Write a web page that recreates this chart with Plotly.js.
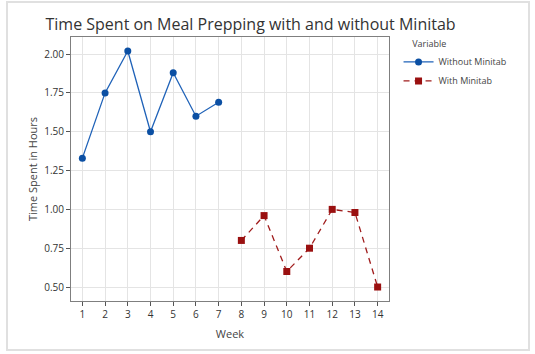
<!DOCTYPE html>
<html><head><meta charset="utf-8">
<script src="https://cdn.plot.ly/plotly-3.0.1.min.js"></script>
<style>html,body{margin:0;padding:0;background:#fff;}#chart{width:535px;height:354px;}</style>
</head><body><div id="chart"></div>
<script>
const weeksWithout = [1, 2, 3, 4, 5, 6, 7];
const hoursWithout = [1.33, 1.75, 2.02, 1.50, 1.88, 1.60, 1.69];
const weeksWith = [8, 9, 10, 11, 12, 13, 14];
const hoursWith = [0.80, 0.96, 0.60, 0.75, 1.00, 0.98, 0.50];
const xTicks = [1,2,3,4,5,6,7,8,9,10,11,12,13,14];
const yTicks = [0.50, 0.75, 1.00, 1.25, 1.50, 1.75, 2.00];

const fontFam = 'Open Sans, Noto Sans, sans-serif';
const traces = [
  {x: weeksWithout, y: hoursWithout, name: 'Without Minitab', mode: 'lines+markers',
   line: {color: '#1f62b8', width: 1.3}, marker: {color: '#0b4fa3', size: 7, symbol: 'circle'}},
  {x: weeksWith, y: hoursWith, name: 'With Minitab', mode: 'lines+markers',
   line: {color: '#a01c1c', width: 1.3, dash: '6px,5px'}, marker: {color: '#9a1010', size: 7, symbol: 'square'}}
];
const layout = {
  width: 535, height: 354,
  margin: {l: 71, r: 146, t: 37, b: 53},
  paper_bgcolor: '#fff', plot_bgcolor: '#fff',
  font: {family: fontFam, color: '#333', size: 10},
  title: {text: 'Time Spent on Meal Prepping with and without Minitab', x: 0.085, xanchor: 'left', y: 0.932, yanchor: 'middle',
          font: {size: 16, color: '#333', family: fontFam}},
  xaxis: {range: [0.5, 14.5], tickvals: xTicks, ticktext: xTicks.map(String), showgrid: true, gridcolor: '#e4e4e4',
          zeroline: false, showline: true, linecolor: '#7f7f7f', linewidth: 1, mirror: true,
          ticks: 'outside', ticklen: 4, tickcolor: '#555', tickfont: {size: 10, color: '#333'},
          title: {text: 'Week', font: {size: 11, color: '#444'}, standoff: 10}},
  yaxis: {range: [0.41, 2.11], tickvals: yTicks, ticktext: yTicks.map(v => v.toFixed(2)), showgrid: true, gridcolor: '#e4e4e4',
          zeroline: false, showline: true, linecolor: '#7f7f7f', linewidth: 1, mirror: true,
          ticks: 'outside', ticklen: 4, tickcolor: '#555', tickfont: {size: 10, color: '#333'},
          title: {text: 'Time Spent in Hours', font: {size: 11, color: '#444'}, standoff: 4}},
  showlegend: true,
  legend: {x: 1.03, y: 1.005, xanchor: 'left', yanchor: 'top', font: {size: 9, color: '#444'},
           title: {text: '\u00a0\u00a0\u00a0\u00a0\u00a0Variable', font: {size: 9, color: '#444'}}, tracegroupgap: 0, itemwidth: 30,
           bgcolor: 'rgba(0,0,0,0)'},
  shapes: [{type: 'rect', xref: 'paper', yref: 'paper', x0: (7-71)/318, x1: (529-71)/318, y0: -(350-301)/264, y1: (301-2)/264,
            line: {color: '#e0e0e0', width: 2}, fillcolor: 'rgba(0,0,0,0)', layer: 'below'}]
};
Plotly.newPlot('chart', traces, layout, {displayModeBar: false, staticPlot: true});
</script></body></html>
